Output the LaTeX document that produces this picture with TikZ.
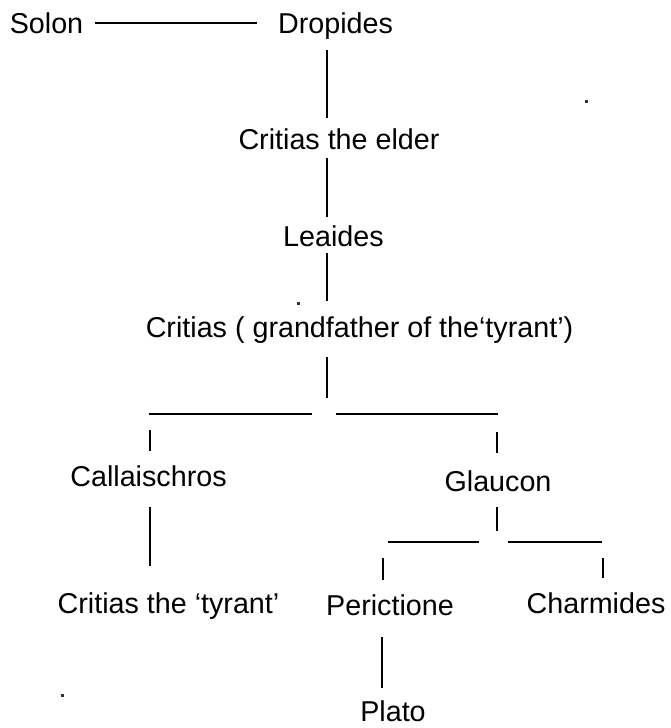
\documentclass[tikz,border=0pt]{standalone}
\usepackage{fontspec}
\setmainfont{Liberation Sans}
\begin{document}
\begin{tikzpicture}[x=1pt,y=1pt,
  person/.style={inner sep=0pt, outer sep=0pt, anchor=base, text=black,
    font=\fontsize{28.7}{34}\selectfont},
  link/.style={draw=black, line width=1.8pt},
  speck/.style={fill=black!80, draw=none}]
\useasboundingbox (0,0) rectangle (671,-728);
\fill[white] (0,0) rectangle (671,-728);
% people
\node[person] (solon)    at (46.5,-33)  {Solon};
\node[person] (dropides) at (335.5,-33) {Dropides};
\node[person] (elder)    at (339,-149)  {Critias the elder};
\node[person] (leaides)  at (333.5,-246) {Leaides};
\node[person] (grand)    at (359.5,-337) {Critias ( grandfather of the‘tyrant’)};
\node[person] (callai)   at (148.5,-486) {Callaischros};
\node[person] (glaucon)  at (498,-491)  {Glaucon};
\node[person] (tyrant)   at (168.5,-613) {Critias the ‘tyrant’};
\node[person] (perict)   at (390,-615)  {Perictione};
\node[person] (charm)    at (596,-613)  {Charmides};
\node[person] (plato)    at (393,-721) {Plato};
% connector end points
\coordinate (sdA) at (95,-23);   \coordinate (sdB) at (257,-23);
\coordinate (d1)  at (327,-50);  \coordinate (d2)  at (327,-118);
\coordinate (e1)  at (327,-158); \coordinate (e2)  at (327,-217);
\coordinate (l1)  at (327,-253); \coordinate (l2)  at (327,-301);
\coordinate (g1)  at (327,-357); \coordinate (g2)  at (327,-398);
\coordinate (hL1) at (149,-414); \coordinate (hL2) at (312,-414);
\coordinate (hR1) at (336,-414); \coordinate (hR2) at (498,-414);
\coordinate (cA)  at (150,-430); \coordinate (cB)  at (150,-451);
\coordinate (gA)  at (497,-432); \coordinate (gB)  at (497,-453);
\coordinate (ca1) at (150,-507); \coordinate (ca2) at (150,-566);
\coordinate (gl1) at (497,-507); \coordinate (gl2) at (497,-531);
\coordinate (kL1) at (388,-542); \coordinate (kL2) at (479,-542);
\coordinate (kR1) at (508,-542); \coordinate (kR2) at (602,-542);
\coordinate (pA)  at (383,-558); \coordinate (pB)  at (383,-580);
\coordinate (chA) at (603,-558); \coordinate (chB) at (603,-578);
\coordinate (pl1) at (382,-637); \coordinate (pl2) at (382,-688);
% connectors
\draw[link] (sdA) -- (sdB);
\draw[link] (d1) -- (d2);
\draw[link] (e1) -- (e2);
\draw[link] (l1) -- (l2);
\draw[link] (g1) -- (g2);
\draw[link] (hL1) -- (hL2);
\draw[link] (hR1) -- (hR2);
\draw[link] (cA) -- (cB);
\draw[link] (gA) -- (gB);
\draw[link] (ca1) -- (ca2);
\draw[link] (gl1) -- (gl2);
\draw[link] (kL1) -- (kL2);
\draw[link] (kR1) -- (kR2);
\draw[link] (pA) -- (pB);
\draw[link] (chA) -- (chB);
\draw[link] (pl1) -- (pl2);
% specks
\fill[speck] (585,-100) rectangle (587.5,-102.5);
\fill[speck] (297,-302) rectangle (299.5,-304.5);
\fill[speck] (61,-694) rectangle (63.5,-696.5);
\end{tikzpicture}
\end{document}
